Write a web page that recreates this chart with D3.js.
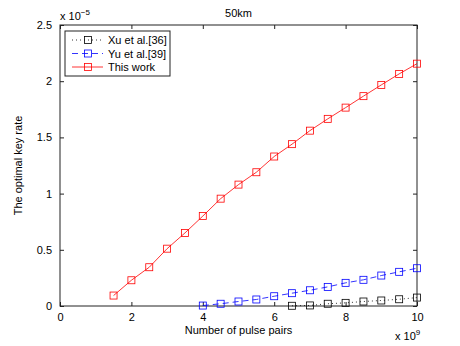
<!DOCTYPE html>
<html>
<head>
<meta charset="utf-8">
<script src="https://d3js.org/d3.v7.min.js"></script>
<style>
  body { margin: 0; background: #fff; }
  text { font-family: "Liberation Sans", Arial, sans-serif; fill: #000; }
</style>
</head>
<body>
<div id="chart"></div>
<script>
// data (key rate in units of 1e-5, pulse pairs in units of 1e9)
const xuX = [6.5, 7, 7.5, 8, 8.5, 9, 9.5, 10];
const xuY = [0.002, 0.005, 0.02, 0.028, 0.04, 0.049, 0.06, 0.075];

const yuX = [4, 4.5, 5, 5.5, 6, 6.5, 7, 7.5, 8, 8.5, 9, 9.5, 10];
const yuY = [0.004, 0.02, 0.04, 0.058, 0.087, 0.114, 0.14, 0.17, 0.206, 0.233, 0.271, 0.304, 0.336];

const thisX = [1.5, 2, 2.5, 3, 3.5, 4, 4.5, 5, 5.5, 6, 6.5, 7, 7.5, 8, 8.5, 9, 9.5, 10];
const thisY = [0.093, 0.229, 0.345, 0.51, 0.65, 0.80, 0.955, 1.08, 1.19, 1.33, 1.44, 1.56, 1.665, 1.765, 1.867, 1.967, 2.065, 2.156];

const xTicks = [0, 2, 4, 6, 8, 10];
const yTicks = [0, 0.5, 1, 1.5, 2, 2.5];

const series = [
  { name: 'Xu et al.[36]', xs: xuX, ys: xuY, color: '#000000', dash: '1,3' },
  { name: 'Yu et al.[39]', xs: yuX, ys: yuY, color: '#0000ff', dash: '6,4' },
  { name: 'This work', xs: thisX, ys: thisY, color: '#ff0000', dash: null }
];

const width = 460, height = 346;
const m = { left: 60, right: 43, top: 25, bottom: 40 };

const svg = d3.select('#chart').append('svg')
  .attr('width', width)
  .attr('height', height);

const x = d3.scaleLinear().domain([0, 10]).range([m.left, width - m.right]);
const y = d3.scaleLinear().domain([0, 2.5]).range([height - m.bottom, m.top]);

const tickLen = 4;
const axisColor = '#222';

// box
svg.append('rect')
  .attr('x', x(0)).attr('y', y(2.5))
  .attr('width', x(10) - x(0)).attr('height', y(0) - y(2.5))
  .attr('fill', 'none').attr('stroke', axisColor).attr('stroke-width', 1);

// x axis (inside ticks) + top ticks
svg.append('g')
  .attr('transform', 'translate(0,' + y(0) + ')')
  .call(d3.axisBottom(x).tickValues(xTicks).tickSizeInner(-tickLen).tickSizeOuter(0).tickPadding(7))
  .call(g => g.select('.domain').remove())
  .call(g => g.selectAll('line').attr('stroke', axisColor))
  .call(g => g.selectAll('text').attr('font-size', 11));

svg.append('g')
  .attr('transform', 'translate(0,' + y(2.5) + ')')
  .call(d3.axisTop(x).tickValues(xTicks).tickSizeInner(-tickLen).tickSizeOuter(0).tickFormat(''))
  .call(g => g.select('.domain').remove())
  .call(g => g.selectAll('line').attr('stroke', axisColor));

// y axis
svg.append('g')
  .attr('transform', 'translate(' + x(0) + ',0)')
  .call(d3.axisLeft(y).tickValues(yTicks).tickSizeInner(-tickLen).tickSizeOuter(0).tickPadding(8)
    .tickFormat(d => d === 0 ? '0' : d3.format('')(d)))
  .call(g => g.select('.domain').remove())
  .call(g => g.selectAll('line').attr('stroke', axisColor))
  .call(g => g.selectAll('text').attr('font-size', 11));

svg.append('g')
  .attr('transform', 'translate(' + x(10) + ',0)')
  .call(d3.axisRight(y).tickValues(yTicks).tickSizeInner(-tickLen).tickSizeOuter(0).tickFormat(''))
  .call(g => g.select('.domain').remove())
  .call(g => g.selectAll('line').attr('stroke', axisColor));

// axis exponents
const ex = svg.append('text').attr('x', x(0)).attr('y', 20).attr('font-size', 11);
ex.append('tspan').text('x 10');
ex.append('tspan').attr('dy', -5).attr('font-size', 8).text('−5');

const ex2 = svg.append('text').attr('x', x(10) - 22).attr('y', 340).attr('font-size', 11);
ex2.append('tspan').text('x 10');
ex2.append('tspan').attr('dy', -5).attr('font-size', 8).text('9');

// title and labels
svg.append('text').attr('x', (x(0) + x(10)) / 2).attr('y', 17)
  .attr('text-anchor', 'middle').attr('font-size', 11).text('50km');

svg.append('text').attr('x', (x(0) + x(10)) / 2).attr('y', 334)
  .attr('text-anchor', 'middle').attr('font-size', 11).text('Number of pulse pairs');

svg.append('text')
  .attr('transform', 'translate(22,' + ((y(0) + y(2.5)) / 2) + ') rotate(-90)')
  .attr('text-anchor', 'middle').attr('font-size', 11).text('The optimal key rate');

// lines + markers
const line = d3.line().x(d => x(d[0])).y(d => y(d[1]));
const ms = 7;

series.forEach(s => {
  const pts = s.xs.map((v, i) => [v, s.ys[i]]);
  svg.append('path')
    .datum(pts)
    .attr('d', line)
    .attr('fill', 'none')
    .attr('stroke', s.color)
    .attr('stroke-width', 0.8)
    .attr('stroke-dasharray', s.dash);
  svg.append('g').selectAll('rect')
    .data(pts).enter().append('rect')
    .attr('x', d => x(d[0]) - ms / 2)
    .attr('y', d => y(d[1]) - ms / 2)
    .attr('width', ms).attr('height', ms)
    .attr('fill', 'none')
    .attr('stroke', s.color)
    .attr('stroke-width', 0.8);
});

// legend
const lg = svg.append('g').attr('transform', 'translate(65,31)');
lg.append('rect').attr('width', 105).attr('height', 45)
  .attr('fill', '#fff').attr('stroke', axisColor).attr('stroke-width', 1);

series.forEach((s, i) => {
  const yy = 9 + i * 13.5;
  lg.append('line').attr('x1', 7).attr('x2', 38).attr('y1', yy).attr('y2', yy)
    .attr('stroke', s.color).attr('stroke-width', 0.8).attr('stroke-dasharray', s.dash);
  lg.append('rect').attr('x', 23 - ms / 2).attr('y', yy - ms / 2).attr('width', ms).attr('height', ms)
    .attr('fill', 'none').attr('stroke', s.color).attr('stroke-width', 0.8);
  lg.append('text').attr('x', 43).attr('y', yy + 4).attr('font-size', 11).text(s.name);
});
</script>
</body>
</html>
